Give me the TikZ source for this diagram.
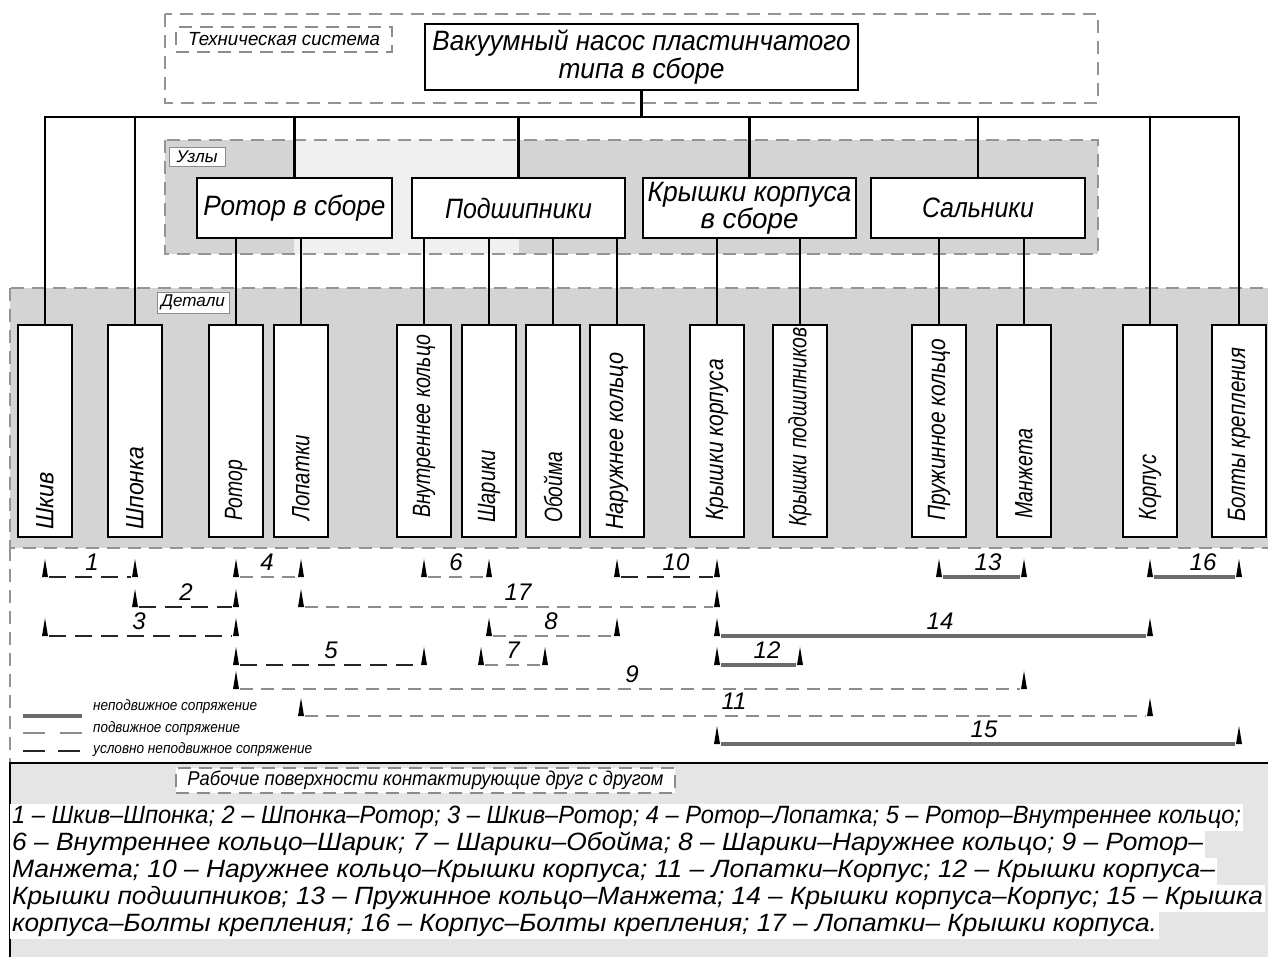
\documentclass[tikz,border=0pt]{standalone}
\usepackage{fontspec}
\setmainfont{Liberation Sans}
\newcommand\fw[2]{\resizebox{#1pt}{\height}{#2}}
\begin{document}
\begin{tikzpicture}[x=1pt,y=-1pt,
  region/.style={draw=black!42, line width=1.4pt, dash pattern=on 13pt off 8pt},
  conn/.style={draw=black, line width=2.3pt},
  unitbox/.style={draw=black, line width=2.3pt, fill=white, minimum height=60pt, inner sep=0pt, align=center, font=\fontsize{28}{26}\selectfont\itshape},
  partbox/.style={draw=black, line width=2.3pt, fill=white, minimum width=54pt, minimum height=212pt, inner sep=0pt},
  ptext/.style={rotate=90, anchor=west, inner sep=0pt, font=\fontsize{25}{27}\selectfont\itshape},
  tag/.style={draw=black!45, line width=0.8pt, fill=white, inner sep=0pt},
  dtag/.style={tag, line width=1.2pt, dash pattern=on 13pt off 8pt},
  fixm/.style={draw=black!58, line width=3.6pt},
  movm/.style={draw=black!45, line width=1.1pt, dash pattern=on 13pt off 8pt},
  condm/.style={draw=black!85, line width=2.7pt, dash pattern=on 17pt off 9pt},
  numlbl/.style={inner sep=0pt, font=\fontsize{24}{26}\selectfont\itshape},
  legtext/.style={anchor=west, inner sep=0pt, font=\fontsize{15}{17}\selectfont\itshape},
  btext/.style={anchor=west, fill=white, inner xsep=2pt, inner ysep=1pt, text height=19pt, text depth=6pt, font=\fontsize{25}{27}\selectfont\itshape}
]
\newcommand\mate[6]{%
  \coordinate (my#5) at (0,#3);
  \coordinate (ma#5) at (#1 |- my#5);
  \coordinate (mb#5) at (#2 |- my#5);
  \draw[#4] ([xshift=4pt]ma#5) -- ([xshift=-4pt]mb#5);
  \fill[black] (ma#5) ++(-3,0) -- ++(3,-18) -- ++(3,18) -- cycle;
  \fill[black] (mb#5) ++(-3,0) -- ++(3,-18) -- ++(3,18) -- cycle;
  \node[numlbl] (ml#5) at (#6,#3-15) {#5};
}
\newcommand\ptxt[4]{% node, bottom y of text, length, text
  \coordinate (pb#1) at (0,#2);
  \node[ptext] (pt#1) at (#1 |- pb#1) {\fw{#3}{#4}};
}
\path[use as bounding box] (0,0) rectangle (1268,956);
\clip (0,0) rectangle (1268,956);
\fill[white] (0,0) rectangle (1268,956);

% regions
\draw[region] (165,14) rectangle (1098,103);
\fill[black!17] (165,140) rectangle (1098,254);
\fill[black!6] (294,140) rectangle (519,254);
\draw[region] (165,140) rectangle (1098,254);
\fill[black!17] (10,288) rectangle (1290,548);
\draw[region] (10,288) rectangle (1290,548);
\draw[region] (10,548) -- (10,763);
\draw[line width=2pt, fill=black!10] (10,763) rectangle (1290,980);

% region labels
\node[dtag, minimum width=216pt, minimum height=25pt, font=\fontsize{19}{21}\selectfont\itshape] (lblTS) at (284,39.5) {\fw{192}{Техническая система}};
\node[tag, minimum width=56pt, minimum height=19pt, font=\fontsize{17}{19}\selectfont\itshape] (lblU) at (197,156.5) {\fw{41}{Узлы}};
\node[tag, minimum width=72pt, minimum height=21pt, font=\fontsize{17}{19}\selectfont\itshape] (lblD) at (193,302.5) {\fw{64}{Детали}};
\node[dtag, minimum width=499pt, minimum height=25pt, font=\fontsize{20}{22}\selectfont\itshape] (lblR) at (425.5,780.5) {\fw{476}{Рабочие поверхности контактирующие друг с другом}};

% system and units
\node[unitbox, minimum width=433pt, minimum height=66pt, font=\fontsize{28}{28}\selectfont\itshape] (sys) at (641.5,57) {\fw{418}{Вакуумный насос пластинчатого}\\\fw{166}{типа в сборе}};
\node[unitbox, minimum width=195pt] (rotU) at (294.5,208) {\fw{182}{Ротор в сборе}};
\node[unitbox, minimum width=213pt] (podU) at (518.5,208) {\fw{147}{Подшипники}};
\node[unitbox, minimum width=213pt] (kryU) at (749.5,208) {\fw{204}{Крышки корпуса}\\\fw{98}{в сборе}};
\node[unitbox, minimum width=214pt] (salU) at (978,208) {\fw{112}{Сальники}};

% parts
\node[partbox] (shkiv) at (45,431) {};
\node[partbox] (shponka) at (135,431) {};
\node[partbox] (rotor) at (236,431) {};
\node[partbox] (lopatki) at (301,431) {};
\node[partbox] (vnut) at (424,431) {};
\node[partbox] (shariki) at (489,431) {};
\node[partbox] (oboima) at (553,431) {};
\node[partbox] (naruzh) at (617,431) {};
\node[partbox] (krk) at (717,431) {};
\node[partbox] (krp) at (800,431) {};
\node[partbox] (pruzh) at (939,431) {};
\node[partbox] (manzh) at (1024,431) {};
\node[partbox] (korpus) at (1150,431) {};
\node[partbox] (bolty) at (1239,431) {};

\ptxt{shkiv}{530}{58}{Шкив}
\ptxt{shponka}{530}{83}{Шпонка}
\ptxt{rotor}{521}{61}{Ротор}
\ptxt{lopatki}{521}{86}{Лопатки}
\ptxt{vnut}{518}{183}{Внутреннее кольцо}
\ptxt{shariki}{523}{73}{Шарики}
\ptxt{oboima}{523}{71}{Обойма}
\ptxt{naruzh}{530}{177}{Наружнее кольцо}
\ptxt{krk}{521}{162}{Крышки корпуса}
\ptxt{krp}{527}{199}{Крышки подшипников}
\ptxt{pruzh}{521}{182}{Пружинное кольцо}
\ptxt{manzh}{519}{90}{Манжета}
\ptxt{korpus}{521}{66}{Корпус}
\ptxt{bolty}{522}{174}{Болты крепления}

% tree connectors
\coordinate (bus) at (640,117);
\draw[conn] (sys.south) -- (sys.south |- bus);
\draw[conn] (shkiv.north) -- (shkiv.north |- bus) -- (bolty.north |- bus) -- (bolty.north);
\foreach \n in {shponka,korpus,rotU,podU,kryU,salU}
  \draw[conn] (\n.north) -- (\n.north |- bus);
\foreach \n in {rotor,lopatki} \draw[conn] (\n.north) -- (\n.north |- rotU.south);
\foreach \n in {vnut,shariki,oboima,naruzh} \draw[conn] (\n.north) -- (\n.north |- podU.south);
\foreach \n in {krk,krp} \draw[conn] (\n.north) -- (\n.north |- kryU.south);
\foreach \n in {pruzh,manzh} \draw[conn] (\n.north) -- (\n.north |- salU.south);

% mating surfaces
\mate{shkiv}{shponka}{577}{condm}{1}{92}
\mate{rotor}{lopatki}{577}{movm}{4}{267}
\mate{vnut}{shariki}{577}{movm}{6}{456}
\mate{naruzh}{krk}{577}{condm}{10}{676}
\mate{pruzh}{manzh}{577}{fixm}{13}{988}
\mate{korpus}{bolty}{577}{fixm}{16}{1203}
\mate{shponka}{rotor}{607}{condm}{2}{186}
\mate{lopatki}{krk}{607}{movm}{17}{518}
\mate{shkiv}{rotor}{636}{condm}{3}{139}
\mate{shariki}{naruzh}{636}{movm}{8}{551}
\mate{krk}{korpus}{636}{fixm}{14}{940}
\mate{rotor}{vnut}{665}{condm}{5}{331}
\coordinate (sh7) at ([xshift=-8pt]shariki.center);
\coordinate (ob7) at ([xshift=-8pt]oboima.center);
\mate{sh7}{ob7}{665}{movm}{7}{513}
\mate{krk}{krp}{665}{fixm}{12}{767}
\mate{rotor}{manzh}{689}{movm}{9}{632}
\mate{lopatki}{korpus}{716}{movm}{11}{734}
\mate{krk}{bolty}{744}{fixm}{15}{984}

% legend
\draw[fixm] (23,716) -- (82,716);
\draw[movm, dash pattern=on 22pt off 15pt] (23,733) -- (82,733);
\draw[condm, dash pattern=on 22pt off 13pt] (23,751) -- (82,751);
\node[legtext] (lg1) at (93,707) {\fw{164}{неподвижное сопряжение}};
\node[legtext] (lg2) at (93,729) {\fw{147}{подвижное сопряжение}};
\node[legtext] (lg3) at (93,750) {\fw{219}{условно неподвижное сопряжение}};

% description text
\node[btext] (t1) at (10,817) {\fw{1229}{1 – Шкив–Шпонка; 2 – Шпонка–Ротор; 3 – Шкив–Ротор; 4 – Ротор–Лопатка; 5 – Ротор–Внутреннее кольцо;}\hspace{12pt}};
\node[btext] (t2) at (10,844) {\fw{1191}{6 – Внутреннее кольцо–Шарик; 7 – Шарики–Обойма; 8 – Шарики–Наружнее кольцо; 9 – Ротор–}\hspace{4pt}};
\node[btext] (t3) at (10,871) {\fw{1203}{Манжета; 10 – Наружнее кольцо–Крышки корпуса; 11 – Лопатки–Корпус; 12 – Крышки корпуса–}};
\node[btext] (t4) at (10,898) {\fw{1251}{Крышки подшипников; 13 – Пружинное кольцо–Манжета; 14 – Крышки корпуса–Корпус; 15 – Крышка}\hspace{4pt}};
\node[btext] (t5) at (10,925) {\fw{1145}{корпуса–Болты крепления; 16 – Корпус–Болты крепления; 17 – Лопатки– Крышки корпуса.}};
\end{tikzpicture}
\end{document}
